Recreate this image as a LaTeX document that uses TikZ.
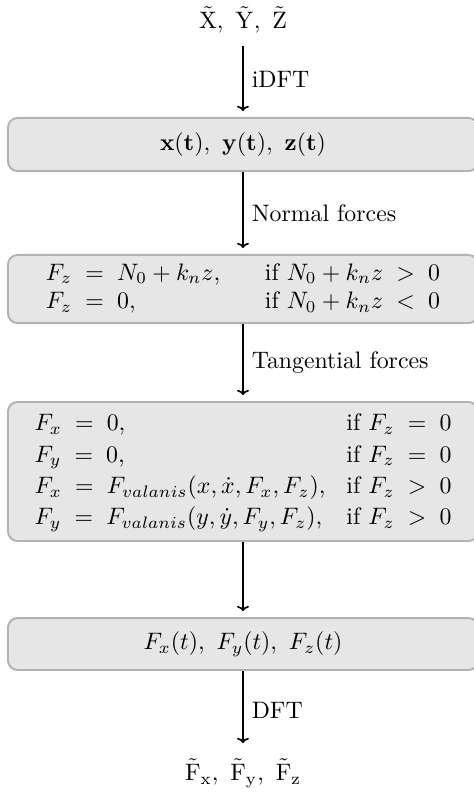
\documentclass[tikz,border=0pt]{standalone}
\usepackage{amsmath,amssymb}
\usepackage{array}
\usepackage{xcolor}
\usepackage{tikz}
\usetikzlibrary{arrows.meta}
\definecolor{BoxFill}{HTML}{E6E6E6}
\definecolor{BoxRule}{HTML}{B2B2B2}
\newcommand{\eqs}{\;=\;}
\newcommand{\rel}[1]{\;#1\;}

\begin{document}
\begin{tikzpicture}[x=0.42pt,y=-0.42pt,
  stage/.style={draw=BoxRule,fill=BoxFill,line width=0.8pt,rounded corners=4pt,
    minimum width=197.4pt,inner sep=0pt,align=center},
  flow/.style={-{To[length=2.2pt,width=5pt]},line width=0.7pt}]
  \useasboundingbox (0,0) rectangle (473,794);
  \node (spec) at (243,20) {$\tilde{\mathrm{X}},\ \tilde{\mathrm{Y}},\ \tilde{\mathrm{Z}}$};
  \node[stage,minimum height=22.3pt] (motion) at (243,144.5)
    {$\mathbf{x}(\mathbf{t}),\ \mathbf{y}(\mathbf{t}),\ \mathbf{z}(\mathbf{t})$};
  \node[stage,minimum height=28.6pt] (normal) at (243,289)
    {$\begin{array}{@{}w{l}{82pt}l@{}}
      F_z \eqs N_0 + k_n z, & \text{if } N_0 + k_n z \rel{>} 0\\
      F_z \eqs 0, & \text{if } N_0 + k_n z \rel{<} 0
    \end{array}$};
  \node[stage,minimum height=58.4pt] (tangent) at (243,471.5)
    {\renewcommand{\arraystretch}{1.1}%
    $\begin{array}{@{}w{l}{121pt}l@{}}
      F_x \eqs 0, & \text{if } F_z \eqs 0\\
      F_y \eqs 0, & \text{if } F_z \eqs 0\\
      F_x \eqs F_{valanis}(x,\dot{x},F_x,F_z), & \text{if } F_z \rel{>} 0\\
      F_y \eqs F_{valanis}(y,\dot{y},F_y,F_z), & \text{if } F_z \rel{>} 0
    \end{array}$};
  \node[stage,minimum height=21.8pt] (forces) at (243,644)
    {$F_x(t),\ F_y(t),\ F_z(t)$};
  \node (result) at (243,773)
    {$\tilde{\mathrm{F}}_{\mathrm{x}},\ \tilde{\mathrm{F}}_{\mathrm{y}},\ \tilde{\mathrm{F}}_{\mathrm{z}}$};
  % connectors
  \draw[flow,shorten <=2pt,shorten >=2.5pt] (spec) -- (motion) node[midway,right] {iDFT};
  \draw[flow,shorten >=2.5pt] (motion) -- (normal) node[midway,right] {Normal forces};
  \draw[flow,shorten >=2.5pt] (normal) -- (tangent) node[midway,right] {Tangential forces};
  \draw[flow,shorten >=2.5pt] (tangent) -- (forces);
  \draw[flow,shorten >=3pt] (forces) -- (result) node[midway,right] {DFT};
\end{tikzpicture}
\end{document}
